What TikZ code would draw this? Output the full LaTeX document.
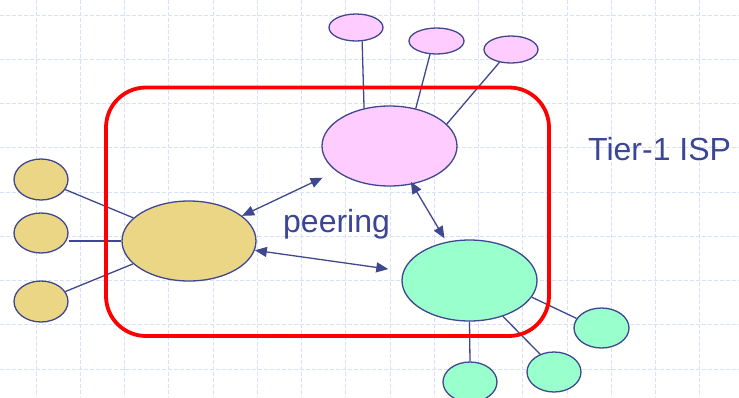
\documentclass[tikz,border=0pt]{standalone}
\usepackage{fontspec}
\setmainfont{Liberation Sans}
\usetikzlibrary{arrows.meta,shapes.geometric}
\definecolor{ink}{HTML}{3F478F}
\definecolor{txt}{HTML}{3C4596}
\definecolor{pinkf}{HTML}{FFCCFF}
\definecolor{yelf}{HTML}{EBD686}
\definecolor{grnf}{HTML}{99FFCC}
\definecolor{gridc}{HTML}{D6E0F8}
\tikzset{
  ell/.style={ellipse, draw=ink, line width=1.3pt, inner sep=0pt},
  pk/.style={ell, fill=pinkf},
  yl/.style={ell, fill=yelf},
  gr/.style={ell, fill=grnf},
  link/.style={draw=ink, line width=1.3pt},
  peer/.style={draw=ink, line width=1.3pt, {Triangle[length=12pt,width=10pt]}-{Triangle[length=12pt,width=10pt]}},
  gridl/.style={draw=gridc, line width=1pt, dash pattern=on 4pt off 2pt},
  lbl/.style={text=txt, inner sep=0pt, anchor=base west, font=\fontsize{32}{38}\selectfont}
}
\begin{document}
\begin{tikzpicture}[x=1pt,y=-1pt]
\useasboundingbox (0,0) rectangle (739,397);
\fill[white] (0,0) rectangle (739,397);
% grid
\foreach \k in {0,...,15} { \draw[gridl] ({36+44.25*\k},0) -- ({36+44.25*\k},397); }
\foreach \k in {0,...,8} { \draw[gridl] (0,{15+44.25*\k}) -- (739,{15+44.25*\k}); }
% nodes
\node[pk, minimum width=135pt, minimum height=80pt] (P) at (389.5,146) {};
\node[pk, minimum width=54pt, minimum height=27pt] (p1) at (356,27.5) {};
\node[pk, minimum width=55pt, minimum height=26pt] (p2) at (436.5,41) {};
\node[pk, minimum width=54pt, minimum height=27pt] (p3) at (511,49.5) {};
\node[yl, minimum width=134pt, minimum height=80pt] (Y) at (189,241) {};
\node[yl, minimum width=54pt, minimum height=41pt] (y1) at (41,179.5) {};
\node[yl, minimum width=54pt, minimum height=40pt] (y2) at (41,233) {};
\node[yl, minimum width=54pt, minimum height=41pt] (y3) at (41,301.5) {};
\node[gr, minimum width=135pt, minimum height=81pt] (G) at (469.5,280.5) {};
\node[gr, minimum width=55pt, minimum height=40pt] (g1) at (601.5,328) {};
\node[gr, minimum width=54pt, minimum height=40pt] (g2) at (554,372) {};
\node[gr, minimum width=54pt, minimum height=40pt] (g3) at (470,382) {};
% links
\draw[link] (p1.-66) -- (P.124.5);
\draw[link] (p2.-116.6) -- (P.55.5);
\draw[link] (p3.-132) -- (P.21);
\draw[link] (y1) -- (Y);
\draw[link] (y2.east |- Y.west) -- (Y.west);
\draw[link] (y3) -- (Y);
\draw[link] (G.-15.6) -- (g1.159.8);
\draw[link] (G.-47.5) -- (g2.128.7);
\draw[link] (G.south) -- (g3.north);
% ISP boundary
\draw[red, line width=3.8pt, rounded corners=40pt] (106,87.5) rectangle (549,336);
% peering arrows
\draw[peer, shorten >=15pt] (Y) -- (P);
\draw[peer, shorten >=15pt] (Y) -- (G);
\draw[peer, shorten <=-3pt, shorten >=4pt] (P) -- (G);
% labels
\node[lbl] (peering) at (283,232) {peering};
\node[lbl] (tier) at (588,160) {Tier-1 ISP};
\end{tikzpicture}
\end{document}
